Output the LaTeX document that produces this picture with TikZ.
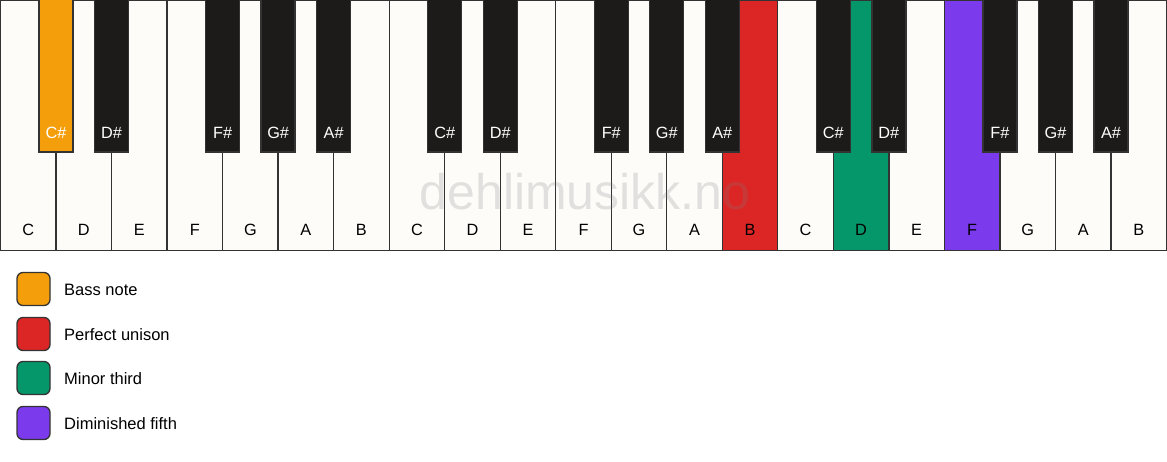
\documentclass[tikz,border=0pt]{standalone}
\usepackage{fontspec}
\setmainfont{Liberation Sans}
\definecolor{keyw}{HTML}{FDFCF9}
\definecolor{keyb}{HTML}{1C1B1A}
\definecolor{edge}{HTML}{333333}
\definecolor{cbass}{HTML}{F59E0B}
\definecolor{cuni}{HTML}{DC2626}
\definecolor{cmin}{HTML}{059669}
\definecolor{cdim}{HTML}{7C3AED}
\begin{document}
\begin{tikzpicture}[x=1pt,y=-1pt,
  whitekey/.style={draw=edge,line width=1.3pt,minimum width=55.5238pt,minimum height=250pt,anchor=north west,inner sep=0pt,outer sep=0pt},
  blackkey/.style={draw=edge,line width=1.3pt,minimum width=34pt,minimum height=153pt,anchor=north,inner sep=0pt,outer sep=0pt},
  wlabel/.style={font=\fontsize{16.3}{19}\selectfont,text=black,inner sep=0pt},
  blabel/.style={font=\fontsize{16.3}{19}\selectfont,text=white,inner sep=0pt},
  legbox/.style={draw=edge,line width=1.3pt,rounded corners=6pt,minimum width=33pt,minimum height=33pt,inner sep=0pt},
  legtext/.style={font=\fontsize{16.5}{19}\selectfont,anchor=west,inner sep=0pt},
  wmark/.style={font=\fontsize{50}{60}\selectfont,text=gray,text opacity=0.22,inner sep=0pt}
]
\useasboundingbox (0,0) rectangle (1167,461);
\fill[white] (0,0) rectangle (1167,461);
% white keys
\foreach \n/\c [count=\i from 0] in {C/keyw,D/keyw,E/keyw,F/keyw,G/keyw,A/keyw,B/keyw,C/keyw,D/keyw,E/keyw,F/keyw,G/keyw,A/keyw,B/cuni,C/keyw,D/cmin,E/keyw,F/cdim,G/keyw,A/keyw,B/keyw}{
  \node[whitekey,fill=\c] (wk\i) at ({0.5+55.5238*\i},0.5) {};
  \node[wlabel] (wl\i) at ({0.5+55.5238*(\i+0.5)},230) {\n};
}
% watermark
\node[wmark] (wm) at (585,192) {dehlimusikk.no};
% black keys
\foreach \b/\n/\c [count=\j from 0] in {1/C\#/cbass,2/D\#/keyb,4/F\#/keyb,5/G\#/keyb,6/A\#/keyb,8/C\#/keyb,9/D\#/keyb,11/F\#/keyb,12/G\#/keyb,13/A\#/keyb,15/C\#/keyb,16/D\#/keyb,18/F\#/keyb,19/G\#/keyb,20/A\#/keyb}{
  \node[blackkey,fill=\c] (bk\j) at ({0.5+55.5238*\b},-1) {};
  \node[blabel] (bl\j) at ({0.5+55.5238*\b},133) {\n};
}
% legend
\foreach \t/\c/\y [count=\k] in {Bass note/cbass/289,Perfect unison/cuni/334,Minor third/cmin/378,Diminished fifth/cdim/423}{
  \node[legbox,fill=\c] (lb\k) at (33.5,\y) {};
  \node[legtext] (lt\k) at (64,\y+1) {\t};
}
\end{tikzpicture}
\end{document}
